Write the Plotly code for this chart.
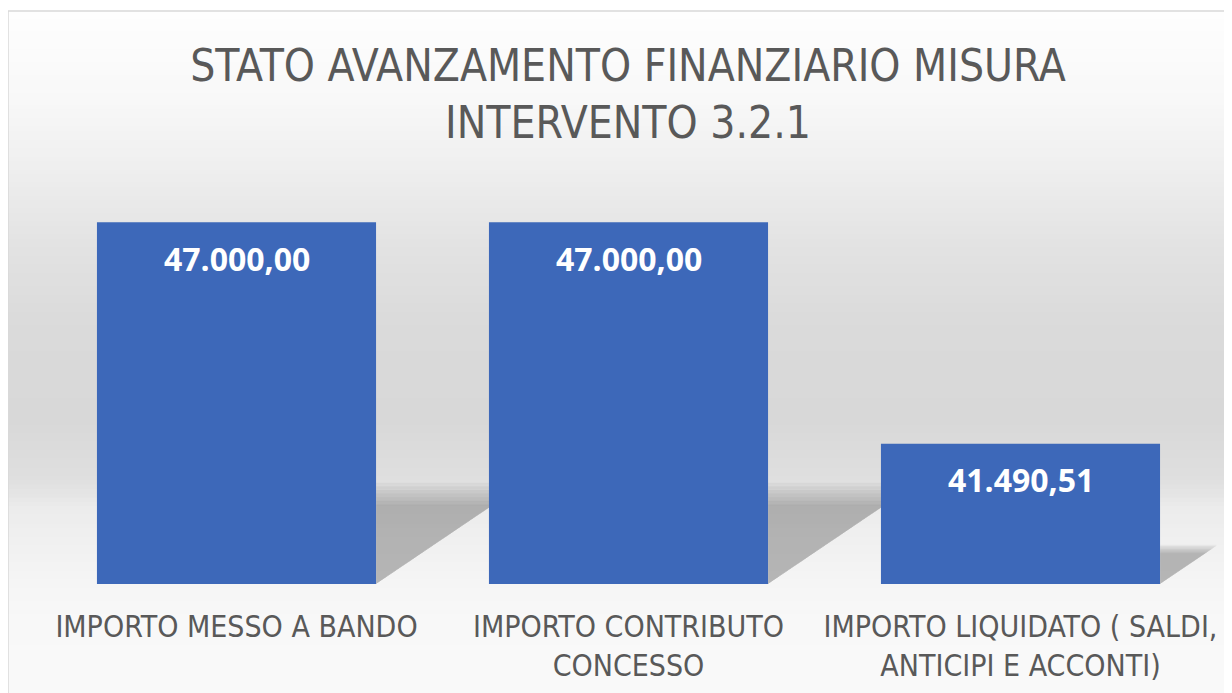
import plotly.graph_objects as go

# ---- data ----
categories = ["IMPORTO MESSO A BANDO", "IMPORTO CONTRIBUTO CONCESSO",
              "IMPORTO LIQUIDATO ( SALDI, ANTICIPI E ACCONTI)"]
tick_labels = ["IMPORTO MESSO A BANDO", "IMPORTO CONTRIBUTO<br>CONCESSO",
               "IMPORTO LIQUIDATO ( SALDI,<br>ANTICIPI E ACCONTI)"]
values = [47000.00, 47000.00, 41490.51]
y_range = [38000, 48000]
title_text = "STATO AVANZAMENTO FINANZIARIO MISURA<br>INTERVENTO 3.2.1"

W, H = 1232, 693
OFF = 8  # page body margin
PL, PR, PT, PB = 40.5 - OFF, 1216.5 - OFF, 182 - OFF, 584 - OFF  # plot area in fig px
BARGAP = 0.288


def it_fmt(v):
    s = f"{v:,.2f}"
    return s.replace(",", "X").replace(".", ",").replace("X", ".")


def px_x(p):
    return p / W


def px_y(p):
    return 1 - p / H


fig = go.Figure()
fig.add_trace(go.Bar(
    x=list(range(len(categories))), y=values,
    marker=dict(color="#3D68B9", line=dict(width=0)),
    hovertext=categories, showlegend=False,
))

shapes = []
# background gradient (screen px -> gray level)
stops = [(0, 255), (11, 254), (100, 248), (160, 240), (250, 226), (330, 218),
         (420, 216), (480, 223), (493, 228), (510, 236), (584, 245), (620, 248), (720, 250)]
n = 160
top0 = 11 - OFF
for i in range(n):
    y0 = top0 + (H - top0) * i / n
    y1 = top0 + (H - top0) * (i + 1) / n
    ym = (y0 + y1) / 2 + OFF
    c = stops[-1][1]
    for (a, ca), (b, cb) in zip(stops[:-1], stops[1:]):
        if a <= ym <= b:
            c = ca + (cb - ca) * (ym - a) / (b - a)
            break
    c = int(round(c))
    shapes.append(dict(type="rect", xref="paper", yref="paper",
                       x0=0, x1=1.0, y0=px_y(y1) - 0.001, y1=px_y(y0) + 0.001,
                       fillcolor=f"rgb({c},{c},{c})", line=dict(width=0), layer="below"))

# soft floor shadows behind each bar
half = (1 - BARGAP) / 2
ppu_y = (PB - PT) / (y_range[1] - y_range[0])
ppu_x = (PR - PL) / len(categories)
for i, v in enumerate(values):
    h = v - y_range[0]
    h_px = h * ppu_y
    xr = i + half
    for sh in [1.12, 1.08, 1.04, 1.0, 0.96, 0.92, 0.88]:
        top = y_range[0] + 0.25 * sh * h
        d = 0.37 * h_px * sh / ppu_x
        path = (f"M {xr},{y_range[0]} L {xr},{top} L {xr + d},{top} Z")
        shapes.append(dict(type="path", xref="x", yref="y", path=path,
                           fillcolor="rgba(0,0,0,0.04)", line=dict(width=0), layer="below"))

# outer border
shapes.append(dict(type="rect", xref="paper", yref="paper",
                   x0=0, x1=1.01, y0=-0.01, y1=px_y(11 - OFF),
                   line=dict(color="#D9D9D9", width=1.5), fillcolor="rgba(0,0,0,0)", layer="above"))

annotations = []
for i, v in enumerate(values):
    annotations.append(dict(x=i, y=v, xref="x", yref="y", text=it_fmt(v),
                            showarrow=False, yanchor="middle", yshift=-36,
                            font=dict(family="Open Sans, Noto Sans, sans-serif", size=32,
                                      color="white", weight="bold")))

fig.update_layout(
    width=W, height=H,
    margin=dict(l=0, r=0, t=0, b=0),
    paper_bgcolor="white", plot_bgcolor="rgba(0,0,0,0)",
    bargap=BARGAP,
    title=dict(text=title_text, x=(628 - OFF) / W, xanchor="center", xref="paper",
               y=1 - 73 / H, yref="container", yanchor="middle",
               font=dict(family="Liberation Sans Narrow, DejaVu Sans Condensed, sans-serif",
                         size=44, color="#595959")),
    xaxis=dict(domain=[px_x(PL), px_x(PR)], range=[-0.5, 2.5],
               tickmode="array", tickvals=list(range(len(categories))), ticktext=tick_labels,
               showgrid=False, showline=False, zeroline=False, ticks="",
               ticklabelstandoff=22, automargin=False,
               tickfont=dict(family="Liberation Sans Narrow, DejaVu Sans Condensed, sans-serif",
                             size=30, color="#595959")),
    yaxis=dict(domain=[px_y(PB), px_y(PT)], range=y_range, visible=False, automargin=False),
    shapes=shapes, annotations=annotations,
)

fig.write_html("out.html")
